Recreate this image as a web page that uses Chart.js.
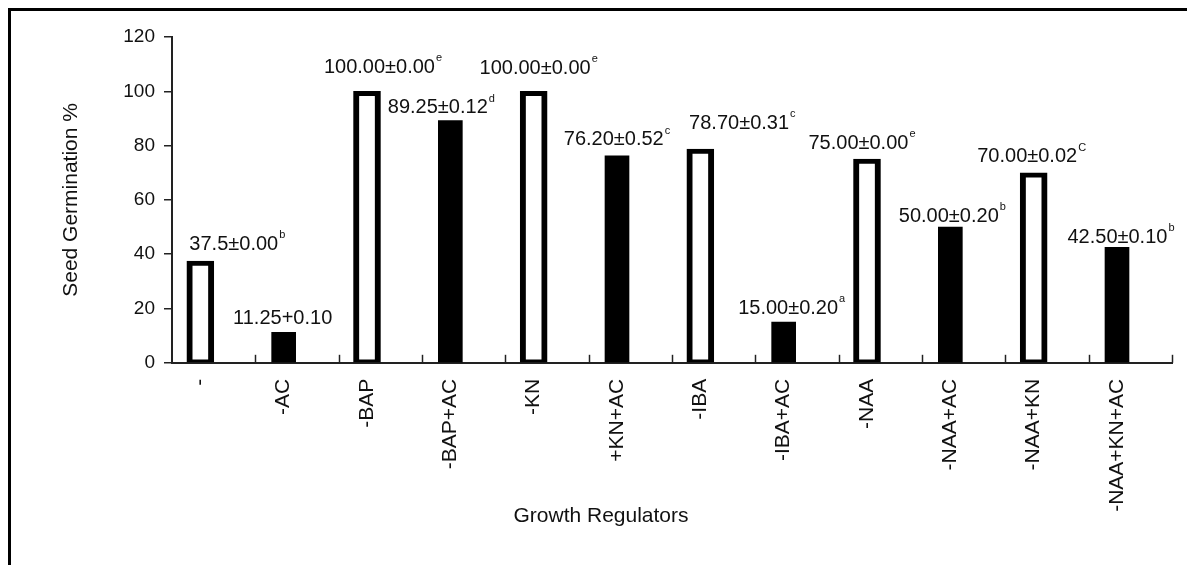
<!DOCTYPE html>
<html>
<head>
<meta charset="utf-8">
<script src="https://cdn.jsdelivr.net/npm/chart.js@4.4.1/dist/chart.umd.min.js"></script>
<style>
  html, body { margin: 0; padding: 0; background: #fff; overflow: hidden; }
  #wrap { position: relative; width: 1187px; height: 565px; }
  #frame {
    position: absolute; left: 8px; top: 8px; width: 1300px; height: 700px;
    border-left: 3px solid #000; border-top: 3px solid #000;
  }
  #chart { position: absolute; left: 0; top: 0; }
</style>
</head>
<body>
<div id="wrap">
  <div id="frame"></div>
  <canvas id="chart" width="1187" height="565"></canvas>
</div>
<script>
// Treatments (open bars = without charcoal, filled bars = with AC)
const categories = ['-', '-AC', '-BAP', '-BAP+AC', '-KN', '+KN+AC', '-IBA', '-IBA+AC', '-NAA', '-NAA+AC', '-NAA+KN', '-NAA+KN+AC'];
const germination = [37.5, 11.25, 100, 89.25, 100, 76.2, 78.7, 15, 75, 50, 70, 42.5];
const withCharcoal = [false, true, false, true, false, true, false, true, false, true, false, true];
const valueLabels = ['37.5±0.00', '11.25+0.10', '100.00±0.00', '89.25±0.12', '100.00±0.00', '76.20±0.52', '78.70±0.31', '15.00±0.20', '75.00±0.00', '50.00±0.20', '70.00±0.02', '42.50±0.10'];
const letters = ['b', '', 'e', 'd', 'e', 'c', 'c', 'a', 'e', 'b', 'C', 'b'];
const yTicks = [0, 20, 40, 60, 80, 100, 120];

// small nudges so the annotations sit where the original has them [dx, dy]
const labelNudge = [[37, -3], [-1, 0], [16, -10], [-9, 1], [5, -9], [0, -2], [42, -12], [8, 0], [-5, -2], [2, 3], [-2, -2], [4, 4]];

const FONT = '"Liberation Sans", Arial, Helvetica, sans-serif';

const openData = [];
const filledData = [];
germination.forEach((v, i) => {
  (withCharcoal[i] ? filledData : openData).push({ x: i, y: v });
});

// value annotations with superscript letters
const valueLabelPlugin = {
  id: 'valueLabels',
  afterDatasetsDraw(chart) {
    const { ctx, scales: { x, y } } = chart;
    ctx.save();
    ctx.fillStyle = '#111';
    ctx.textAlign = 'left';
    ctx.textBaseline = 'middle';
    germination.forEach((v, i) => {
      const [dx, dy] = labelNudge[i];
      ctx.font = '20px ' + FONT;
      const w1 = ctx.measureText(valueLabels[i]).width;
      ctx.font = '11px ' + FONT;
      const w2 = letters[i] ? ctx.measureText(letters[i]).width + 1 : 0;
      const cx = x.getPixelForValue(i) + dx;
      const cy = y.getPixelForValue(v) - 14 + dy;
      const left = cx - (w1 + w2) / 2;
      ctx.font = '20px ' + FONT;
      ctx.fillText(valueLabels[i], left, cy);
      if (letters[i]) {
        ctx.font = '11px ' + FONT;
        ctx.fillText(letters[i], left + w1 + 1, cy - 9);
      }
    });
    ctx.restore();
  }
};

// tick marks between categories, pointing up into the plot
const innerTicksPlugin = {
  id: 'innerTicks',
  afterDraw(chart) {
    const { ctx, scales: { x }, chartArea } = chart;
    ctx.save();
    ctx.strokeStyle = '#222';
    ctx.lineWidth = 1.5;
    categories.forEach((c, i) => {
      const px = Math.round(x.getPixelForValue(i + 0.66)) + 0.5;
      ctx.beginPath();
      ctx.moveTo(px, chartArea.bottom);
      ctx.lineTo(px, chartArea.bottom - 8);
      ctx.stroke();
    });
    ctx.restore();
  }
};

new Chart(document.getElementById('chart'), {
  type: 'bar',
  data: {
    datasets: [
      {
        label: 'Without AC',
        data: openData,
        backgroundColor: '#fff',
        borderColor: '#000',
        borderWidth: { top: 5, left: 6, right: 6, bottom: 3 },
        borderSkipped: false,
        barThickness: 27,
        grouped: false
      },
      {
        label: 'With AC',
        data: filledData,
        backgroundColor: '#000',
        borderWidth: 0,
        barThickness: 24,
        grouped: false
      }
    ]
  },
  options: {
    responsive: false,
    animation: false,
    layout: { padding: { left: 30, top: 37, right: 15, bottom: 0 } },
    plugins: {
      legend: { display: false },
      tooltip: { enabled: false },
      title: {
        display: true,
        position: 'bottom',
        text: 'Growth Regulators',
        color: '#111',
        font: { family: FONT, size: 21, weight: 'normal' },
        padding: { top: -24, bottom: 36 }
      }
    },
    scales: {
      x: {
        type: 'linear',
        min: -0.34,
        max: 11.66,
        offset: false,
        afterBuildTicks: (scale) => {
          scale.ticks = categories.map((c, i) => ({ value: i }));
        },
        afterFit: (scale) => { scale.height = 165; },
        grid: { display: false, drawTicks: false },
        border: { display: true, color: '#222', width: 2 },
        ticks: {
          autoSkip: false,
          minRotation: 90,
          maxRotation: 90,
          padding: 16,
          color: '#111',
          font: { family: FONT, size: 21 },
          callback: (value) => categories[value] ?? ''
        }
      },
      y: {
        min: 0,
        max: 120,
        afterBuildTicks: (scale) => {
          scale.ticks = yTicks.map(v => ({ value: v }));
        },
        afterFit: (scale) => { scale.width = 142; },
        grid: { drawOnChartArea: false, drawTicks: true, tickLength: 8, color: '#222', lineWidth: 1.5 },
        border: { display: true, color: '#222', width: 2 },
        ticks: {
          padding: 9,
          color: '#111',
          font: { family: FONT, size: 19 }
        },
        title: {
          display: true,
          text: 'Seed Germination %',
          color: '#111',
          font: { family: FONT, size: 21, weight: 'normal' },
          padding: { top: 29, bottom: 0 }
        }
      }
    }
  },
  plugins: [valueLabelPlugin, innerTicksPlugin]
});
</script>
</body>
</html>
